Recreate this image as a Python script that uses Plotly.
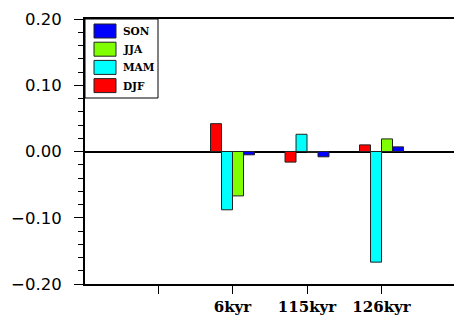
import plotly.graph_objects as go

# Tick positions and their labels (the first slot has no label)
tick_pos = [1, 2, 3, 4]
tick_labels = ["", "6kyr", "115kyr", "126kyr"]
group_pos = [2, 3, 4]

# Seasonal anomalies per period, drawn left to right within each group
seasons = ["DJF", "MAM", "JJA", "SON"]
djf = [0.042, -0.016, 0.010]
mam = [-0.088, 0.026, -0.167]
jja = [-0.067, -0.001, 0.019]
son = [-0.005, -0.008, 0.007]
colors = {"DJF": "#FF0000", "MAM": "#00FFFF", "JJA": "#7FFF00", "SON": "#0000FF"}
values = {"DJF": djf, "MAM": mam, "JJA": jja, "SON": son}

W, H = 454, 320
ML, MR, MT, MB = 85, 0, 19, 36
PW, PH = W - ML - MR, H - MT - MB


def px_x(x):
    return (x - ML) / PW


def px_y(y):
    return 1 - (y - MT) / PH


fig = go.Figure()
for s in seasons:
    fig.add_trace(go.Bar(
        x=group_pos, y=values[s], name=s,
        marker=dict(color=colors[s], line=dict(color="#222222", width=1)),
        showlegend=False,
    ))

# Legend box drawn by hand: swatches listed in reverse draw order
shapes = [dict(type="rect", xref="paper", yref="paper",
               x0=px_x(85), x1=px_x(158), y0=px_y(98), y1=px_y(19),
               line=dict(color="black", width=1), fillcolor="white", layer="above")]
annotations = []
for i, s in enumerate(reversed(seasons)):
    yc = 31 + i * 18.2
    shapes.append(dict(type="rect", xref="paper", yref="paper",
                       x0=px_x(94), x1=px_x(116), y0=px_y(yc + 7), y1=px_y(yc - 7),
                       line=dict(color="#222222", width=1), fillcolor=colors[s],
                       layer="above"))
    annotations.append(dict(xref="paper", yref="paper", x=px_x(121), y=px_y(yc),
                            text=s, showarrow=False, xanchor="left", yanchor="middle",
                            font=dict(family="DejaVu Serif", size=10.5, color="black",
                                      weight="bold")))

fig.update_layout(
    width=W, height=H,
    margin=dict(l=ML, r=MR, t=MT, b=MB, pad=0),
    paper_bgcolor="white", plot_bgcolor="white",
    barmode="group", bargap=0.41, bargroupgap=0,
    shapes=shapes, annotations=annotations,
    showlegend=False,
)
fig.update_xaxes(
    range=[0.02, 0.02 + PW / 74.5],
    tickmode="array", tickvals=tick_pos, ticktext=tick_labels,
    ticks="outside", ticklen=8, tickwidth=1.2, tickcolor="black",
    showline=True, linecolor="black", linewidth=2, mirror=True,
    showgrid=False, zeroline=False,
    tickfont=dict(family="DejaVu Serif", size=15, color="black", weight="bold"),
)
fig.update_yaxes(
    range=[-0.2, 0.2],
    tickmode="array", tickvals=[-0.2, -0.1, 0.0, 0.1, 0.2],
    ticktext=["\u22120.20", "\u22120.10", "0.00", "0.10", "0.20"],
    ticks="outside", ticklen=9, tickwidth=1.2, tickcolor="black",
    minor=dict(dtick=0.02, tick0=0, ticks="outside", ticklen=5, tickwidth=1.2,
               tickcolor="black", showgrid=False),
    ticklabelstandoff=9,
    showline=True, linecolor="black", linewidth=2, mirror=False,
    showgrid=False,
    zeroline=True, zerolinecolor="black", zerolinewidth=1.5,
    tickfont=dict(family="DejaVu Sans", size=16.5, color="black"),
)

fig.write_html("out.html")
